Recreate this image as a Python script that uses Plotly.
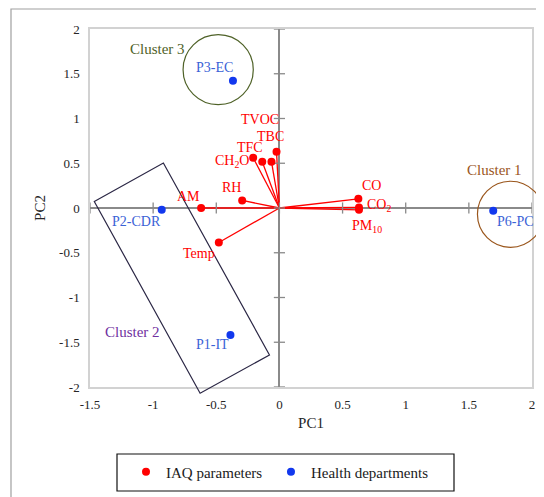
import plotly.graph_objects as go

# ---------------- data ----------------
iaq_names = ["TVOC", "TBC", "TFC", "CH<sub>2</sub>O", "RH", "AM", "Temp",
             "CO", "CO<sub>2</sub>", "PM<sub>10</sub>"]
iaq_pc1 = [-0.023, -0.063, -0.136, -0.208, -0.295, -0.620, -0.480, 0.625, 0.630, 0.630]
iaq_pc2 = [0.629, 0.517, 0.517, 0.562, 0.084, 0.000, -0.385, 0.103, 0.006, -0.020]

dept_names = ["P3-EC", "P2-CDR", "P1-IT", "P6-PC"]
dept_pc1 = [-0.368, -0.932, -0.388, 1.693]
dept_pc2 = [1.423, -0.020, -1.418, -0.030]

x_tick_vals = [-1.5, -1, -0.5, 0, 0.5, 1, 1.5, 2]
x_tick_text = ["-1.5", "-1", "-0.5", "0", "0.5", "1", "1.5", "2"]
y_tick_vals = [-2, -1.5, -1, -0.5, 0, 0.5, 1, 1.5, 2]
y_tick_text = ["-2", "-1.5", "-1", "-0.5", "0", "0.5", "1", "1.5", "2"]

cluster_names = ["Cluster 1", "Cluster 2", "Cluster 3"]
legend_names = ["IAQ parameters", "Health departments"]

# ---------------- styling / placement ----------------
FONT = "Liberation Serif"
RED = "#ff0000"
BLUE_MK = "#1238ee"
BLUE_TX = "#3a62d6"
AXIS_GRAY = "#8a8a8a"
X_RANGE = [-1.5, 2]
Y_RANGE = [-2, 2]

# page body has an 8px default margin; compensate so the plot area sits at 90..532 x 29..387
BODY = 8
ML, MR, MT, MB = 90 - BODY, 20, 29 - BODY, 118
PLOT_W = 544 - ML - MR
PLOT_H = 497 - MT - MB

# label offsets in px (dx, dy up-positive)
iaq_offsets = [(-17, 32), (-1, 25), (-12, 14), (-21, -4), (-11, 13), (-13, 12),
               (-20, -11), (13, 13), (20, 2), (8, -17)]
dept_offsets = [(-18, 13), (-25, -12), (-18, -10), (22, -11)]

cluster_label_pos = [(1.703, 0.42), (-1.167, -1.381), (-0.969, 1.78)]
cluster_colors = ["#9a561c", "#7030a0", "#4f6228"]


def px_(x):
    return (x - X_RANGE[0]) / (X_RANGE[1] - X_RANGE[0])


def py_(y):
    return (y - Y_RANGE[0]) / (Y_RANGE[1] - Y_RANGE[0])


def ppx(p):  # page pixel x -> paper
    return (p - BODY - ML) / PLOT_W


def ppy(p):  # page pixel y -> paper
    return (497 - MB + BODY - p) / PLOT_H


fig = go.Figure()

# loading vectors from origin
lx, ly = [], []
for x, y in zip(iaq_pc1, iaq_pc2):
    lx += [0, x, None]
    ly += [0, y, None]
fig.add_trace(go.Scatter(x=lx, y=ly, mode="lines", line=dict(color=RED, width=1.3),
                         showlegend=False, hoverinfo="skip"))

# cross tick marks on the zero axes
fig.add_trace(go.Scatter(x=[0] * len(y_tick_vals), y=y_tick_vals, mode="markers",
                         marker=dict(symbol="line-ew", size=8, line=dict(color=AXIS_GRAY, width=1.3)),
                         showlegend=False, hoverinfo="skip", cliponaxis=False))
fig.add_trace(go.Scatter(x=x_tick_vals, y=[0] * len(x_tick_vals), mode="markers",
                         marker=dict(symbol="line-ns", size=8, line=dict(color=AXIS_GRAY, width=1.3)),
                         showlegend=False, hoverinfo="skip", cliponaxis=False))

fig.add_trace(go.Scatter(x=iaq_pc1, y=iaq_pc2, mode="markers", name=legend_names[0] + "\u00a0",
                         marker=dict(color=RED, size=8)))
fig.add_trace(go.Scatter(x=dept_pc1, y=dept_pc2, mode="markers", name=legend_names[1],
                         marker=dict(color=BLUE_MK, size=8)))

annotations = []
for n, x, y, (dx, dy) in zip(iaq_names, iaq_pc1, iaq_pc2, iaq_offsets):
    annotations.append(dict(x=x, y=y, text=n, showarrow=False, xshift=dx, yshift=dy,
                            font=dict(family=FONT, size=14, color=RED)))
for n, x, y, (dx, dy) in zip(dept_names, dept_pc1, dept_pc2, dept_offsets):
    annotations.append(dict(x=x, y=y, text=n, showarrow=False, xshift=dx, yshift=dy,
                            font=dict(family=FONT, size=14, color=BLUE_TX)))
for n, (x, y), c in zip(cluster_names, cluster_label_pos, cluster_colors):
    annotations.append(dict(x=x, y=y, text=n, showarrow=False,
                            font=dict(family=FONT, size=15, color=c)))

shapes = []
# Cluster 3 circle
c3 = (-0.485, 1.546, 0.278, 0.391)
shapes.append(dict(type="circle", xref="paper", yref="paper",
                   x0=px_(c3[0] - c3[2]), x1=px_(c3[0] + c3[2]),
                   y0=py_(c3[1] - c3[3]), y1=py_(c3[1] + c3[3]),
                   line=dict(color="#4f6228", width=1.2)))
# Cluster 1 circle
c1 = (1.830, -0.070, 0.262, 0.369)
shapes.append(dict(type="circle", xref="paper", yref="paper",
                   x0=px_(c1[0] - c1[2]), x1=px_(c1[0] + c1[2]),
                   y0=py_(c1[1] - c1[3]), y1=py_(c1[1] + c1[3]),
                   line=dict(color="#9a561c", width=1.2)))
# Cluster 2 rotated rectangle
rect = [(-1.466, 0.073), (-0.919, 0.503), (-0.079, -1.642), (-0.628, -2.07)]
path = "M " + " L ".join(f"{px_(x):.5f},{py_(y):.5f}" for x, y in rect) + " Z"
shapes.append(dict(type="path", xref="paper", yref="paper", path=path,
                   line=dict(color="#2b2745", width=1.2)))
# legend box
shapes.append(dict(type="rect", xref="paper", yref="paper",
                   x0=ppx(117), x1=ppx(454), y0=ppy(491), y1=ppy(454),
                   line=dict(color="#111111", width=1.2)))
# outer chart frame
shapes.append(dict(type="rect", xref="paper", yref="paper",
                   x0=ppx(11), x1=ppx(560), y0=ppy(520), y1=ppy(9),
                   line=dict(color="#a0a0a0", width=1.2)))

axis_common = dict(showgrid=False, zeroline=True, zerolinecolor=AXIS_GRAY, zerolinewidth=1.5,
                   showline=True, mirror=True, linecolor="#d2d2d2", linewidth=1.5,
                   ticks="", tickfont=dict(family=FONT, size=13, color="#262626"))

fig.update_layout(
    width=544, height=497,
    font=dict(family=FONT, size=14, color="#1a1a1a"),
    margin=dict(l=ML, r=MR, t=MT, b=MB, autoexpand=False),
    paper_bgcolor="white", plot_bgcolor="white",
    xaxis=dict(range=X_RANGE, tickvals=x_tick_vals, ticktext=x_tick_text,
               ticklabelstandoff=5,
               title=dict(text="PC1", font=dict(family=FONT, size=15, color="#262626"), standoff=6),
               **axis_common),
    yaxis=dict(range=Y_RANGE, tickvals=y_tick_vals, ticktext=y_tick_text,
               ticklabelstandoff=6,
               title=dict(text="PC2", font=dict(family=FONT, size=15, color="#262626"), standoff=10),
               **axis_common),
    showlegend=True,
    legend=dict(orientation="h", x=ppx(126), xanchor="left",
                y=ppy(472), yanchor="middle",
                font=dict(family=FONT, size=15, color="#1a1a1a"),
                bgcolor="rgba(0,0,0,0)", borderwidth=0),
    annotations=annotations,
    shapes=shapes,
)

fig.write_html("out.html")
